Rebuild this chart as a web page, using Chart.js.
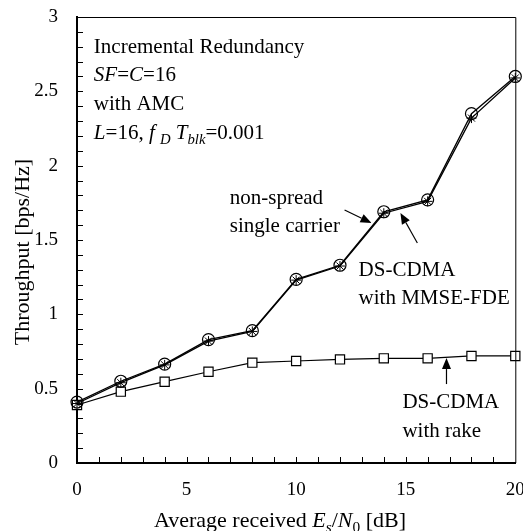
<!DOCTYPE html>
<html>
<head>
<meta charset="utf-8">
<script src="https://cdn.jsdelivr.net/npm/chart.js@4.4.1/dist/chart.umd.min.js"></script>
<style>
  html, body { margin: 0; padding: 0; background: #fff; }
  canvas { display: block; }
</style>
</head>
<body>
<canvas id="myChart" width="523" height="531"></canvas>
<script>
const SERIF = '"Liberation Serif", "Times New Roman", serif';

// Es/N0 [dB]
const SNR_DB = [0, 2, 4, 6, 8, 10, 12, 14, 16, 18, 20];
// throughput [bps/Hz]
const NON_SPREAD = [0.41, 0.55, 0.665, 0.83, 0.89, 1.235, 1.33, 1.69, 1.77, 2.35, 2.60];
const MMSE_FDE = [0.40, 0.54, 0.66, 0.82, 0.885, 1.23, 1.325, 1.68, 1.76, 2.32, 2.59];
const RAKE = [0.39, 0.48, 0.547, 0.614, 0.675, 0.686, 0.697, 0.704, 0.704, 0.72, 0.72];

const X_TICKS = [0, 5, 10, 15, 20];
const Y_TICKS = [0, 0.5, 1, 1.5, 2, 2.5, 3];

// text placed in data units (x in dB, y in bps/Hz, y = baseline)
const NOTES = [
    {x: 0.77, y: 2.758, parts: [{t: 'Incremental Redundancy'}]},
    {x: 0.77, y: 2.569, parts: [{t: 'SF', it: true}, {t: '='}, {t: 'C', it: true}, {t: '=16'}]},
    {x: 0.77, y: 2.374, parts: [{t: 'with AMC'}]},
    {x: 0.77, y: 2.179, parts: [{t: 'L', it: true}, {t: '=16, '}, {t: 'f ', it: true}, {t: 'D', it: true, sub: true},
        {t: ' '}, {t: 'T', it: true}, {t: 'blk', it: true, sub: true}, {t: '=0.001'}]},
    {x: 6.97, y: 1.742, parts: [{t: 'non-spread'}]},
    {x: 6.97, y: 1.554, parts: [{t: 'single carrier'}]},
    {x: 12.85, y: 1.258, parts: [{t: 'DS-CDMA'}]},
    {x: 12.85, y: 1.069, parts: [{t: 'with MMSE-FDE'}]},
    {x: 14.85, y: 0.37, parts: [{t: 'DS-CDMA'}]},
    {x: 14.85, y: 0.175, parts: [{t: 'with rake'}]},
];

const ARROWS = [
    {from: [12.21, 1.702], to: [13.44, 1.614]},
    {from: [15.53, 1.48], to: [14.76, 1.682]},
    {from: [16.86, 0.531], to: [16.86, 0.706]},
];

const X_TITLE = [{t: 'Average received '}, {t: 'E', it: true}, {t: 's', it: true, sub: true}, {t: '/'},
    {t: 'N', it: true}, {t: '0', sub: true}, {t: ' [dB]'}];
const Y_TITLE = 'Throughput [bps/Hz]';

function toPoints(ys) {
    return SNR_DB.map((x, i) => ({x: x, y: ys[i]}));
}

function richWidth(ctx, parts, size) {
    let w = 0;
    for (let p of parts) {
        let s = p.sub ? size * 0.7 : size;
        ctx.font = (p.it ? 'italic ' : '') + s + 'px ' + SERIF;
        w += ctx.measureText(p.t).width;
    }
    return w;
}

function drawRich(ctx, parts, x, y, size) {
    ctx.textBaseline = 'alphabetic';
    ctx.textAlign = 'left';
    for (let p of parts) {
        let s = p.sub ? size * 0.7 : size;
        ctx.font = (p.it ? 'italic ' : '') + s + 'px ' + SERIF;
        ctx.fillText(p.t, x, p.sub ? y + size * 0.22 : y);
        x += ctx.measureText(p.t).width;
    }
}

function drawArrow(ctx, x0, y0, x1, y1) {
    let ang = Math.atan2(y1 - y0, x1 - x0);
    let len = 11, half = 4.5;
    let bx = x1 - len * Math.cos(ang), by = y1 - len * Math.sin(ang);
    ctx.beginPath();
    ctx.moveTo(x0, y0);
    ctx.lineTo(bx, by);
    ctx.stroke();
    ctx.beginPath();
    ctx.moveTo(x1, y1);
    ctx.lineTo(bx + half * Math.sin(ang), by - half * Math.cos(ang));
    ctx.lineTo(bx - half * Math.sin(ang), by + half * Math.cos(ang));
    ctx.closePath();
    ctx.fill();
}

const decorPlugin = {
    id: 'decor',
    afterDatasetsDraw(chart) {
        let ctx = chart.ctx;
        let xs = chart.scales.x, ys = chart.scales.y;
        let area = chart.chartArea;
        ctx.save();
        ctx.strokeStyle = '#000';
        ctx.fillStyle = '#000';

        // top and right frame
        ctx.lineWidth = 1;
        ctx.beginPath();
        ctx.moveTo(area.left, area.top + 0.5);
        ctx.lineTo(area.right + 0.5, area.top + 0.5);
        ctx.lineTo(area.right + 0.5, area.bottom);
        ctx.stroke();

        // inward ticks
        ctx.beginPath();
        for (let v = 1; v < 30; v++) {
            let py = Math.round(ys.getPixelForValue(v / 10)) + 0.5;
            ctx.moveTo(area.left, py);
            ctx.lineTo(area.left + 6, py);
        }
        for (let v = 1; v < 20; v++) {
            let px = Math.round(xs.getPixelForValue(v)) + 0.5;
            ctx.moveTo(px, area.bottom);
            ctx.lineTo(px, area.bottom - 6);
        }
        ctx.stroke();

        // arrows
        ctx.lineWidth = 1.2;
        for (let a of ARROWS) {
            drawArrow(ctx, xs.getPixelForValue(a.from[0]), ys.getPixelForValue(a.from[1]),
                xs.getPixelForValue(a.to[0]), ys.getPixelForValue(a.to[1]));
        }

        // notes
        for (let n of NOTES) {
            drawRich(ctx, n.parts, xs.getPixelForValue(n.x), ys.getPixelForValue(n.y), 21);
        }

        // axis titles
        let w = richWidth(ctx, X_TITLE, 22);
        drawRich(ctx, X_TITLE, 280 - w / 2, 527, 22);

        ctx.translate(23, (area.top + area.bottom) / 2 + 12);
        ctx.rotate(-Math.PI / 2);
        ctx.font = '22px ' + SERIF;
        ctx.textAlign = 'center';
        ctx.textBaseline = 'middle';
        ctx.fillText(Y_TITLE, 0, 0);
        ctx.restore();
    }
};

function makeChart() {
    let ctx = document.getElementById('myChart').getContext('2d');
    Chart.defaults.font.family = SERIF;
    Chart.defaults.color = '#000';

    return new Chart(ctx, {
        type: 'line',
        data: {
            datasets: [{
                label: 'non-spread single carrier',
                data: toPoints(NON_SPREAD),
                borderColor: '#000',
                borderWidth: 1.3,
                pointStyle: 'circle',
                pointRadius: 6,
                pointBorderWidth: 1.2,
                pointBorderColor: '#000',
                pointBackgroundColor: 'rgba(0,0,0,0)',
                clip: false,
            }, {
                label: 'DS-CDMA with MMSE-FDE',
                data: toPoints(MMSE_FDE),
                borderColor: '#000',
                borderWidth: 1.3,
                pointStyle: 'star',
                pointRadius: 5,
                pointBorderWidth: 1,
                pointBorderColor: '#000',
                pointBackgroundColor: 'rgba(0,0,0,0)',
                clip: false,
            }, {
                label: 'DS-CDMA with rake',
                data: toPoints(RAKE),
                borderColor: '#000',
                borderWidth: 1.2,
                pointStyle: 'rect',
                pointRadius: 6.5,
                pointBorderWidth: 1.2,
                pointBorderColor: '#000',
                pointBackgroundColor: '#fff',
                clip: false,
            }]
        },
        options: {
            responsive: false,
            animation: false,
            devicePixelRatio: 1,
            layout: {padding: {top: 17, right: 7, left: 0, bottom: 0}},
            plugins: {legend: {display: false}, tooltip: {enabled: false}},
            elements: {line: {tension: 0}},
            scales: {
                x: {
                    type: 'linear',
                    min: 0,
                    max: 20,
                    afterBuildTicks: (s) => { s.ticks = X_TICKS.map(v => ({value: v})); },
                    afterFit: (s) => { s.height = 68; s.paddingLeft = 0; s.paddingRight = 0; },
                    grid: {display: false, drawTicks: false},
                    border: {color: '#000', width: 2},
                    ticks: {color: '#000', font: {size: 19}, padding: 16, maxRotation: 0, autoSkip: false,
                        callback: (v) => String(v)},
                },
                y: {
                    type: 'linear',
                    min: 0,
                    max: 3,
                    afterBuildTicks: (s) => { s.ticks = Y_TICKS.map(v => ({value: v})); },
                    afterFit: (s) => { s.width = 77; s.paddingTop = 0; s.paddingBottom = 0; },
                    grid: {display: false, drawTicks: false},
                    border: {color: '#000', width: 2},
                    ticks: {color: '#000', font: {size: 19}, padding: 19, autoSkip: false,
                        callback: (v) => String(v)},
                }
            }
        },
        plugins: [decorPlugin],
    });
}

makeChart();
</script>
</body>
</html>
